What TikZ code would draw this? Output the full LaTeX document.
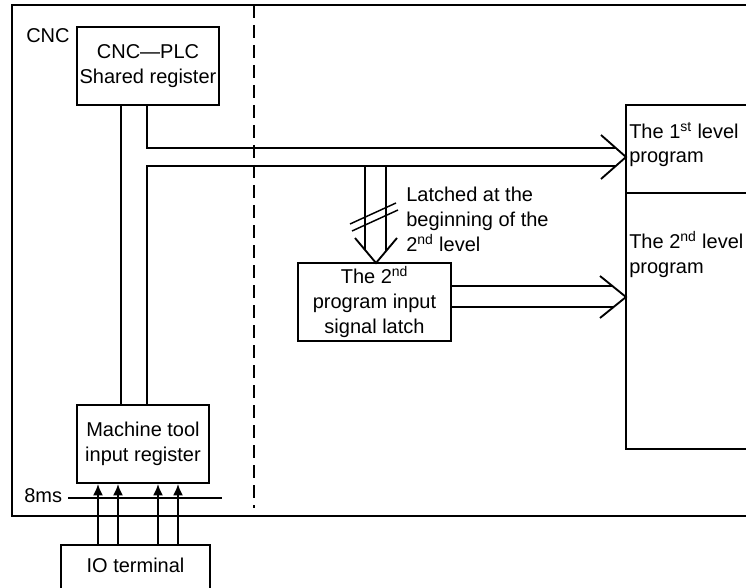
\documentclass[tikz,border=0pt]{standalone}
\usepackage{fontspec}
\setmainfont{Liberation Sans}
\usetikzlibrary{arrows.meta}
\begin{document}
\begin{tikzpicture}[x=0.75pt,y=-0.75pt,
  txt/.style={font=\fontsize{15}{18.5}\selectfont, inner sep=0pt},
  box/.style={draw, line width=1.4pt, txt, align=center},
  ln/.style={line width=1.4pt},
  upar/.style={line width=1.4pt, -{Latex[length=8.5pt,width=7.5pt]}},
]
\useasboundingbox (0,0) rectangle (746,588);
% outer CNC frame and dashed divider
\draw[line width=1.6pt] (12,5) rectangle (760,516);
\draw[ln, dash pattern=on 10pt off 5pt] (254,5) -- (254,508);
\node[txt, anchor=base west] (cnc) at (26,43) {CNC};

% boxes
\node[box, minimum width=106.5pt, minimum height=58.5pt] (shared) at (148,66) {CNC—PLC\\Shared register};
\node[box, minimum width=99pt, minimum height=58.5pt] (machine) at (143,444) {Machine tool\\input register};
\node[box, minimum width=111.75pt, minimum height=45pt] (io) at (135.5,575) {};
\node[txt, anchor=base] (iotext) at (135.5,572) {IO terminal};
\node[box, minimum width=114.75pt, minimum height=58.5pt] (latch) at (374.5,302) {The 2\textsuperscript{nd}\\program input\\signal latch};
\node[box, minimum width=100.5pt, minimum height=66pt] (lvlone) at (693,149) {};
\node[box, minimum width=100.5pt, minimum height=192pt] (lvltwo) at (693,321) {};
\node[txt, anchor=north west, align=left] (lvlonetext) at (629,122) {The 1\textsuperscript{st} level\\program};
\node[txt, anchor=north west, align=left] (lvltwotext) at (629,231) {The 2\textsuperscript{nd} level\\program};
\node[txt, anchor=north west, align=left] (latchnote) at (406,187) {Latched at the\\beginning of the\\2\textsuperscript{nd} level};

% helper coordinates
\coordinate (xa) at (121,0);
\coordinate (xb) at (147,0);
\coordinate (e1) at (616,148);
\coordinate (e2) at (616,166);
\coordinate (t1) at (626,157);
\coordinate (v1) at (365,250);
\coordinate (v2) at (386,251);
\coordinate (t3) at (376,263);
\coordinate (h1) at (612.4,286);
\coordinate (h2) at (613.6,307);
\coordinate (t2) at (626,297);

% shared register <-> machine tool register
\draw[ln] (shared.south -| xa) -- (machine.north -| xa);
\draw[ln] (shared.south -| xb) |- (e1);
\draw[ln] (machine.north -| xb) |- (e2);
\draw[ln] (601,135) -- (t1) -- (601,179);

% down double arrow to latch
\draw[ln] (e2 -| v1) -- (v1);
\draw[ln] (e2 -| v2) -- (v2);
\draw[ln] (355,238) -- (t3) -- (397,238);
\draw[line width=1.1pt] (350,224) -- (396,203);
\draw[line width=1.1pt] (352,231) -- (398,210);

% latch -> 2nd level
\draw[ln] (latch.east |- h1) -- (h1);
\draw[ln] (latch.east |- h2) -- (h2);
\draw[ln] (600,276) -- (t2) -- (600,318);

% 8ms line
\node[txt, anchor=base west] (ms) at (24,502) {8ms};
\coordinate (msend) at (222,498);
\coordinate (msstart) at ([xshift=4.5pt]ms.east);
\draw[ln] (msstart |- msend) -- (msend);

% IO arrows
\foreach \x in {98,118,158,178} {
  \coordinate (k\x) at (\x,0);
  \draw[upar] (io.north -| k\x) -- (machine.south -| k\x);
}
\end{tikzpicture}
\end{document}
